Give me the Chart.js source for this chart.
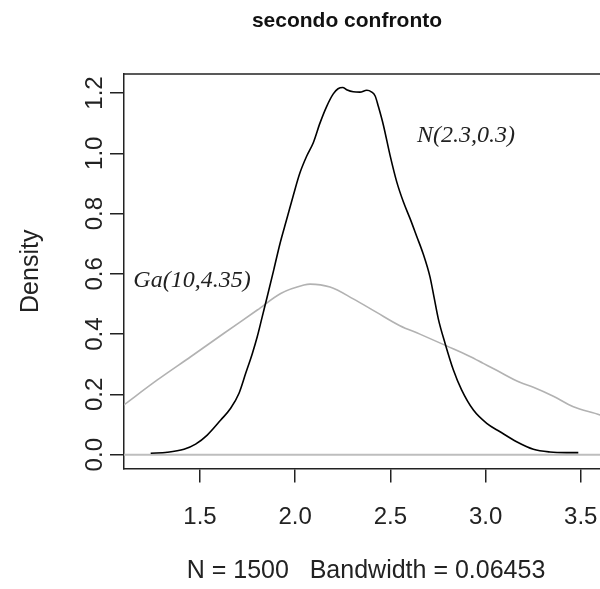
<!DOCTYPE html>
<html>
<head>
<meta charset="utf-8">
<script src="https://cdn.jsdelivr.net/npm/chart.js@4/dist/chart.umd.min.js"></script>
<style>
  html, body { margin: 0; padding: 0; background: #fff; overflow: hidden; }
  #wrap { width: 600px; height: 589px; overflow: hidden; position: relative; background: #fff; }
  canvas { display: block; }
</style>
</head>
<body>
<div id="wrap"><canvas id="c" width="640" height="589"></canvas></div>
<script>
// ---- data ----
const plotTitle = 'secondo confronto';
const xLabel = 'N = 1500   Bandwidth = 0.06453';
const yLabel = 'Density';
const xTickValues = [1.5, 2.0, 2.5, 3.0, 3.5];
const yTickValues = [0.0, 0.2, 0.4, 0.6, 0.8, 1.0, 1.2];

const normalX = [1.241, 1.328, 1.416, 1.477, 1.538, 1.609, 1.661, 1.705, 1.740, 1.775, 1.801, 1.827, 1.853, 1.888, 1.920, 1.955, 1.990, 2.025, 2.060, 2.095, 2.130, 2.165, 2.200, 2.225, 2.250, 2.270, 2.305, 2.340, 2.376, 2.400, 2.420, 2.437, 2.463, 2.498, 2.533, 2.568, 2.603, 2.638, 2.673, 2.708, 2.730, 2.752, 2.787, 2.831, 2.874, 2.936, 3.006, 3.076, 3.163, 3.251, 3.338, 3.426, 3.487];
const normalY = [0.005, 0.008, 0.018, 0.035, 0.065, 0.115, 0.154, 0.204, 0.270, 0.336, 0.392, 0.458, 0.524, 0.615, 0.700, 0.780, 0.860, 0.935, 0.990, 1.035, 1.100, 1.155, 1.197, 1.214, 1.218, 1.211, 1.204, 1.203, 1.209, 1.204, 1.190, 1.155, 1.094, 0.994, 0.906, 0.839, 0.784, 0.725, 0.665, 0.590, 0.520, 0.450, 0.370, 0.281, 0.215, 0.148, 0.104, 0.076, 0.043, 0.018, 0.009, 0.007, 0.007];

const gammaX = [1.100, 1.276, 1.451, 1.626, 1.801, 1.924, 2.046, 2.078, 2.183, 2.305, 2.428, 2.550, 2.655, 2.795, 2.918, 2.988, 3.058, 3.180, 3.251, 3.356, 3.461, 3.601, 3.640];
const gammaY = [0.165, 0.248, 0.325, 0.403, 0.480, 0.535, 0.563, 0.566, 0.556, 0.517, 0.472, 0.428, 0.400, 0.361, 0.326, 0.303, 0.280, 0.240, 0.224, 0.194, 0.159, 0.132, 0.122];

const curveNames = ['N(2.3,0.3)', 'Ga(10,4.35)'];
const curveLabelX = [2.897, 1.458];
const curveLabelY = [1.060, 0.577];

// ---- chart ----
const zip = (xs, ys) => xs.map((x, i) => ({ x: x, y: ys[i] }));
const SANS = '"Liberation Sans", Arial, sans-serif';
const SERIF = '"Liberation Serif", "Times New Roman", serif';
const TEXT = '#222';

const extras = {
  id: 'extras',
  beforeDatasetsDraw(chart) {
    const { ctx, chartArea, scales } = chart;
    const y0 = scales.y.getPixelForValue(0);
    ctx.save();
    ctx.strokeStyle = '#bebebe';
    ctx.lineWidth = 2;
    ctx.beginPath();
    ctx.moveTo(chartArea.left, y0);
    ctx.lineTo(chartArea.right, y0);
    ctx.stroke();
    ctx.restore();
  },
  afterDraw(chart) {
    const { ctx, chartArea, scales } = chart;
    ctx.save();
    // top frame line
    ctx.strokeStyle = '#222';
    ctx.lineWidth = 1.5;
    ctx.beginPath();
    ctx.moveTo(chartArea.left, chartArea.top);
    ctx.lineTo(chartArea.right + 2, chartArea.top);
    ctx.stroke();

    // main title
    ctx.fillStyle = '#111';
    ctx.font = 'bold 21px ' + SANS;
    ctx.textAlign = 'center';
    ctx.textBaseline = 'middle';
    ctx.fillText(plotTitle, 347, 21);

    // y tick labels (rotated, as in R)
    ctx.fillStyle = TEXT;
    ctx.font = '24px ' + SANS;
    yTickValues.forEach(v => {
      const py = scales.y.getPixelForValue(v);
      ctx.save();
      ctx.translate(95, py);
      ctx.rotate(-Math.PI / 2);
      ctx.fillText(v.toFixed(1), 0, 0);
      ctx.restore();
    });

    // y axis title
    ctx.font = '25px ' + SANS;
    ctx.save();
    ctx.translate(31, (chartArea.top + chartArea.bottom) / 2);
    ctx.rotate(-Math.PI / 2);
    ctx.fillText(yLabel, 0, 0);
    ctx.restore();

    // curve annotations
    ctx.font = 'italic 24px ' + SERIF;
    curveNames.forEach((t, i) => {
      ctx.fillText(t, scales.x.getPixelForValue(curveLabelX[i]), scales.y.getPixelForValue(curveLabelY[i]));
    });
    ctx.restore();
  }
};

new Chart(document.getElementById('c'), {
  type: 'scatter',
  data: {
    datasets: [
      { label: curveNames[0], data: zip(normalX, normalY), showLine: true, borderColor: '#000', borderWidth: 1.6, pointRadius: 0, cubicInterpolationMode: 'monotone' },
      { label: curveNames[1], data: zip(gammaX, gammaY), showLine: true, borderColor: '#b2b2b2', borderWidth: 1.6, pointRadius: 0, cubicInterpolationMode: 'monotone' }
    ]
  },
  options: {
    responsive: false,
    animation: false,
    devicePixelRatio: 1,
    layout: { padding: { top: 74, right: 32, bottom: 0, left: 0 } },
    plugins: { legend: { display: false }, tooltip: { enabled: false }, title: { display: false } },
    events: [],
    scales: {
      x: {
        type: 'linear',
        min: 1.1008,
        max: 3.643,
        afterFit(s) { s.height = 120.5; },
        afterBuildTicks(s) { s.ticks = xTickValues.map(v => ({ value: v })); },
        ticks: { padding: 20, autoSkip: false, maxRotation: 0, color: TEXT, font: { family: SANS, size: 24 }, callback: v => Number(v).toFixed(1) },
        grid: { drawOnChartArea: false, drawTicks: true, tickLength: 14, color: '#222', lineWidth: 1.5 },
        border: { display: true, color: '#222', width: 1.5 },
        title: { display: true, text: xLabel, color: TEXT, font: { family: SANS, size: 25 }, padding: { top: 0, bottom: 2.5 } }
      },
      y: {
        type: 'linear',
        min: -0.0458,
        max: 1.263,
        afterFit(s) { s.width = 124; },
        afterBuildTicks(s) { s.ticks = yTickValues.map(v => ({ value: v })); },
        ticks: { display: false },
        grid: { drawOnChartArea: false, drawTicks: true, tickLength: 14, color: '#222', lineWidth: 1.5 },
        border: { display: true, color: '#222', width: 1.5 }
      }
    }
  },
  plugins: [extras]
});
</script>
</body>
</html>
